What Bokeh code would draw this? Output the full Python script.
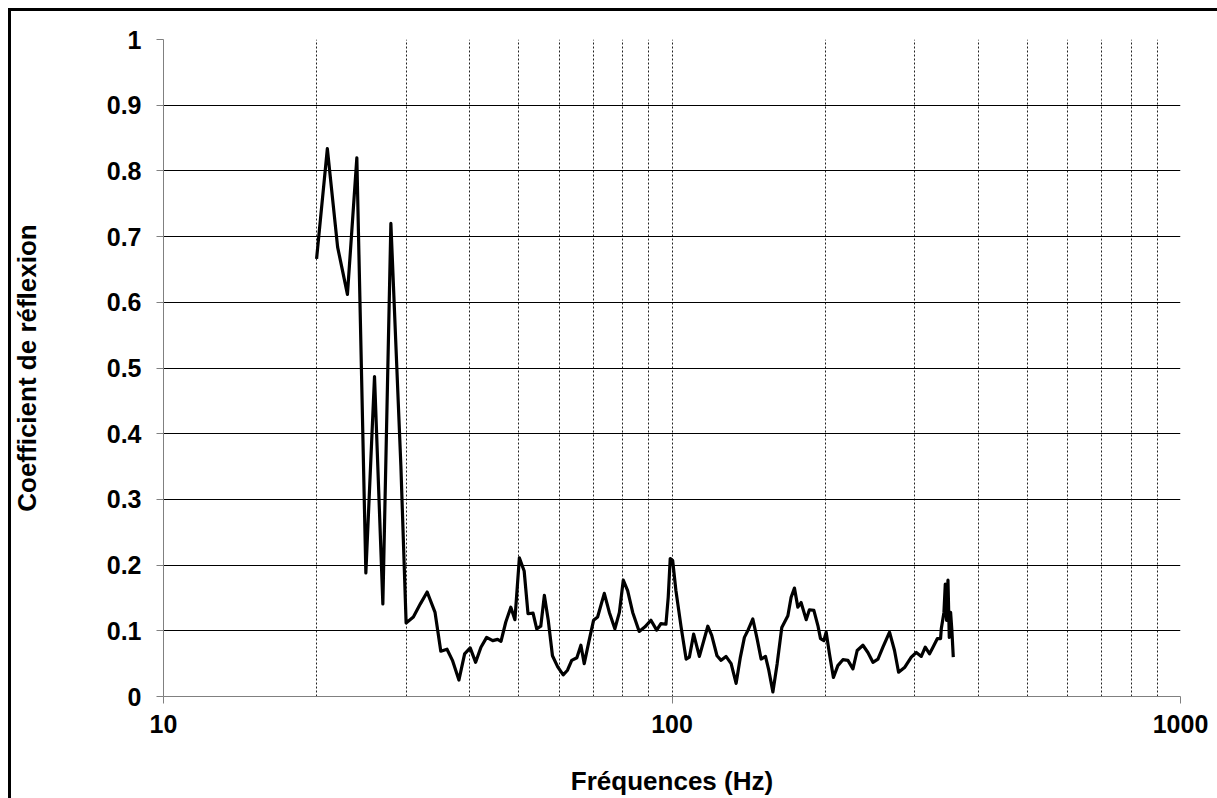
from bokeh.plotting import figure
from bokeh.models import FixedTicker, CustomJSTickFormatter
from bokeh.embed import file_html
from bokeh.resources import INLINE

freq = [20, 21, 22, 23, 24, 25, 26, 27, 28, 29.3,
        30, 31, 32, 33, 34.2, 35.1, 36.1, 37, 38.1, 39.1,
        40.1, 41.1, 42.1, 43.2, 44.4, 45.4, 46.1, 47.1, 48.2, 49.1,
        50.1, 51.2, 52.1, 53.3, 54.2, 55.2, 56.1, 57.1, 58.2, 59.6,
        61.1, 62.3, 63.5, 65, 66.2, 67.2, 68.7, 70.1, 71.4, 73.6,
        75.3, 77.2, 78.8, 80.2, 81.8, 83.7, 86.2, 88.5, 90.9, 93.3,
        95.1, 97.3, 98.3, 99.2, 100.3, 101.8, 104.2, 106.6, 108.2, 110.3,
        113.2, 117.6, 119.7, 122.6, 124.9, 127.7, 130.7, 133.7, 136.3, 138.8,
        140.9, 144.2, 147, 149.7, 152.7, 155, 157.9, 161, 164.4, 169,
        171.5, 174.1, 176.8, 179.4, 183.6, 186.3, 190.1, 193.6, 195.9, 198.9,
        201, 204, 207.7, 211.9, 216.8, 221.8, 226.9, 231.3, 237.4, 242.8,
        248.4, 254.1, 259.9, 267.8, 273.9, 279, 286.6, 295.5, 302.3, 309.2,
        314.8, 321, 326, 332.4, 337.4, 338.5, 342.6, 344.7, 346.7, 348.9,
        351, 353.1, 355.2, 357.4]

refl = [0.666, 0.834, 0.684, 0.612, 0.820, 0.188, 0.487, 0.141, 0.720, 0.350,
        0.112, 0.121, 0.141, 0.159, 0.128, 0.069, 0.072, 0.055, 0.025, 0.065,
        0.074, 0.052, 0.075, 0.090, 0.085, 0.087, 0.084, 0.113, 0.136, 0.117,
        0.211, 0.191, 0.126, 0.127, 0.103, 0.107, 0.154, 0.116, 0.062, 0.045,
        0.033, 0.040, 0.055, 0.059, 0.078, 0.050, 0.085, 0.116, 0.121, 0.157,
        0.128, 0.103, 0.128, 0.177, 0.161, 0.128, 0.099, 0.106, 0.116, 0.101,
        0.111, 0.110, 0.151, 0.210, 0.207, 0.161, 0.106, 0.057, 0.060, 0.095,
        0.061, 0.107, 0.093, 0.062, 0.055, 0.061, 0.050, 0.020, 0.060, 0.090,
        0.100, 0.118, 0.088, 0.057, 0.061, 0.040, 0.007, 0.050, 0.105, 0.123,
        0.151, 0.165, 0.136, 0.143, 0.117, 0.132, 0.131, 0.108, 0.088, 0.085,
        0.098, 0.065, 0.029, 0.047, 0.056, 0.055, 0.042, 0.070, 0.078, 0.067,
        0.052, 0.057, 0.075, 0.098, 0.070, 0.037, 0.044, 0.060, 0.067, 0.061,
        0.075, 0.065, 0.075, 0.088, 0.088, 0.103, 0.128, 0.171, 0.116, 0.177,
        0.090, 0.128, 0.100, 0.060]

x_major = [10, 100, 1000]
x_minor = [20, 30, 40, 50, 60, 70, 80, 90, 200, 300, 400, 500, 600, 700, 800, 900]
y_ticks = [0, 0.1, 0.2, 0.3, 0.4, 0.5, 0.6, 0.7, 0.8, 0.9, 1]

x_title = "Fréquences (Hz)"
y_title = "Coefficient de réflexion"

FONT = "Liberation Sans"

p = figure(width=1217, height=798, x_axis_type="log", x_range=(10, 1000), y_range=(0, 1),
           output_backend="svg", toolbar_location=None,
           min_border_left=163, min_border_top=39, min_border_right=37, min_border_bottom=102)
# outer chart frame (left and top edges visible, as in the reference)
p.styles = {"box-shadow": "inset 8px 8px 0 0 white, inset 11px 11px 0 0 black"}
p.outline_line_color = None
p.background_fill_color = "white"
p.border_fill_color = None

p.line(freq, refl, line_color="black", line_width=3.2, line_join="round")

# x axis
p.xaxis.ticker = FixedTicker(ticks=x_major, minor_ticks=x_minor)
p.xaxis.formatter = CustomJSTickFormatter(code="return tick.toFixed(0)")
p.xaxis.major_label_standoff = 11
p.xaxis.axis_label = x_title
p.xaxis.axis_label_standoff = 30

# y axis
p.yaxis.ticker = FixedTicker(ticks=y_ticks)
p.yaxis.formatter = CustomJSTickFormatter(code="return tick.toFixed(1).replace('.0', '')")
p.yaxis.major_label_standoff = 15
p.yaxis.axis_label = y_title
p.yaxis.axis_label_standoff = 62

for ax in (p.xaxis, p.yaxis):
    ax.axis_line_color = "#808080"
    ax.axis_line_width = 1
    ax.major_tick_line_color = "#808080"
    ax.major_tick_out = 7
    ax.major_tick_in = 0
    ax.minor_tick_line_color = None
    ax.major_label_text_font = FONT
    ax.major_label_text_font_style = "bold"
    ax.major_label_text_font_size = "25px"
    ax.major_label_text_color = "black"
    ax.axis_label_text_font = FONT
    ax.axis_label_text_font_style = "bold"
    ax.axis_label_text_font_size = "26px"
    ax.axis_label_text_color = "black"

# grids
p.xgrid.ticker = FixedTicker(ticks=x_major[1:], minor_ticks=x_minor)
p.xgrid.grid_line_color = "#222222"
p.xgrid.grid_line_dash = "2 2"
p.xgrid.minor_grid_line_color = "#222222"
p.xgrid.minor_grid_line_dash = "2 2"

p.ygrid.ticker = FixedTicker(ticks=y_ticks[1:])
p.ygrid.grid_line_color = "black"
p.ygrid.grid_line_width = 1

open("out.html", "w").write(file_html(p, INLINE))
